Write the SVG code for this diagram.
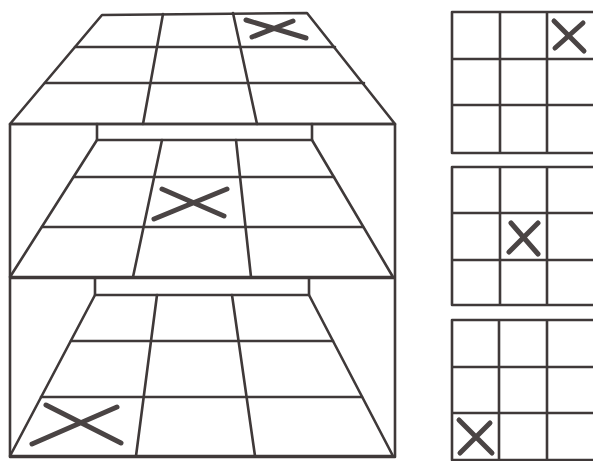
<svg xmlns="http://www.w3.org/2000/svg" width="593" height="461" viewBox="0 0 593 461">
<style>
.ln{fill:none;stroke:#3f3939;stroke-width:2.6;stroke-linejoin:round;stroke-linecap:round}
.x{fill:none;stroke:#4a4444;stroke-width:5;stroke-linecap:round}
</style>
<rect width="593" height="461" fill="#ffffff"/>
<g id="stack">
  <g id="box">
    <path class="ln" d="M10,124 L10,457 M395,124 L395,457 M10,124 L395,124 M10,278 L395,278 M10,457 L395,457"/>
    <path class="ln" d="M97,124 L97,140 M312,124 L312,140 M95,278 L95,295 M309,278 L309,295"/>
  </g>
  <g id="top-plane">
    <path class="ln" d="M102,15 L307,13 L395,124 L10,124 Z"/>
    <path class="ln" d="M75,47 L335,47 M45,83 L364,83 M163,14 L143,124 M233,13 L257,124"/>
    <path class="x" d="M246,20 L306,38 M252,37 L293,21"/>
  </g>
  <g id="middle-plane">
    <path class="ln" d="M97,140 L312,140 L393,277 L10,277 Z"/>
    <path class="ln" d="M74,177 L334,177 M42,227 L363,227 M162,140 L133,277 M236,140 L251,277"/>
    <path class="x" d="M162,189 L224,216 M154,219 L227,189"/>
  </g>
  <g id="bottom-plane">
    <path class="ln" d="M95,295 L309,295 L393,456 L10,456 Z"/>
    <path class="ln" d="M71,341 L333,341 M41,397 L362,397 M157,295 L136,456 M232,295 L255,456"/>
    <path class="x" d="M46,405 L121,443 M32,444 L117,407"/>
  </g>
</g>
<g id="grid-top">
  <path class="ln" d="M452,12 L596,12 M452,59 L596,59 M452,105 L596,105 M452,153 L596,153 M452,12 L452,153 M500,12 L500,153 M547,12 L547,153"/>
  <path class="x" d="M554,21 L584,51 M555,48 L583,23"/>
</g>
<g id="grid-middle">
  <path class="ln" d="M452,167 L596,167 M452,213 L596,213 M452,260 L596,260 M452,305 L596,305 M452,167 L452,305 M500,167 L500,305 M547,167 L547,305"/>
  <path class="x" d="M511,223 L538,254 M509,252 L538,223"/>
</g>
<g id="grid-bottom">
  <path class="ln" d="M452,320 L596,320 M452,367 L596,367 M452,413 L596,413 M452,460 L596,460 M452,320 L452,460 M499,320 L499,460 M547,320 L547,460"/>
  <path class="x" d="M459,420 L492,453 M460,453 L490,423"/>
</g>
</svg>
